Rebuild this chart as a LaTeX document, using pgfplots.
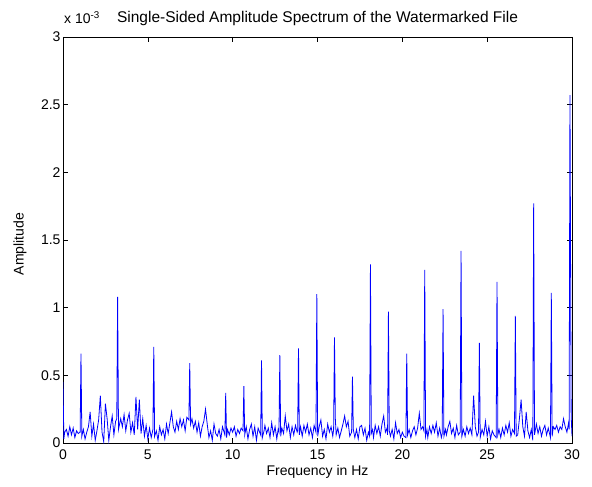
\documentclass[border=0pt]{standalone}
\usepackage{pgfplots}
\pgfplotsset{compat=1.18}
\usepackage{pgfplotstable}
\usepackage{fontspec}
\setmainfont{Liberation Sans}
\usetikzlibrary{calc}

% amplitude in units of 1e-3
\pgfplotstableread{
f a
0.0 0.45
0.05 0.03
0.1 0.08
0.2 0.10
0.3 0.05
0.4 0.12
0.5 0.06
0.6 0.11
0.7 0.04
0.8 0.09
0.9 0.07
1.01 0.08
1.06 0.66
1.11 0.05
1.2 0.10
1.3 0.03
1.4 0.08
1.5 0.12
1.6 0.23
1.7 0.05
1.8 0.14
1.9 0.02
2.0 0.09
2.1 0.17
2.2 0.35
2.3 0.08
2.4 0.01
2.5 0.29
2.6 0.18
2.7 0.02
2.8 0.12
2.9 0.20
3.0 0.06
3.1 0.16
3.17 0.18
3.22 1.08
3.27 0.10
3.4 0.18
3.5 0.12
3.6 0.21
3.7 0.09
3.8 0.17
3.9 0.22
4.0 0.08
4.1 0.15
4.2 0.06
4.3 0.34
4.4 0.10
4.5 0.32
4.6 0.07
4.7 0.18
4.8 0.05
4.9 0.13
5.0 0.03
5.1 0.11
5.2 0.04
5.30 0.10
5.35 0.71
5.40 0.05
5.5 0.09
5.6 0.02
5.7 0.12
5.8 0.06
5.9 0.10
6.0 0.03
6.1 0.14
6.2 0.07
6.3 0.15
6.4 0.23
6.5 0.12
6.6 0.08
6.7 0.16
6.8 0.10
6.9 0.18
7.0 0.12
7.1 0.17
7.2 0.09
7.3 0.19
7.42 0.17
7.47 0.59
7.52 0.14
7.6 0.18
7.7 0.11
7.8 0.16
7.9 0.08
8.0 0.15
8.1 0.05
8.2 0.12
8.3 0.16
8.4 0.25
8.5 0.14
8.6 0.04
8.7 0.09
8.8 0.02
8.9 0.14
9.0 0.07
9.1 0.05
9.2 0.10
9.3 0.03
9.4 0.12
9.54 0.06
9.59 0.37
9.64 0.04
9.7 0.10
9.8 0.06
9.9 0.11
10.0 0.08
10.1 0.12
10.2 0.05
10.3 0.10
10.4 0.07
10.5 0.11
10.61 0.09
10.66 0.42
10.71 0.06
10.8 0.12
10.9 0.03
11.0 0.10
11.1 0.14
11.2 0.05
11.3 0.12
11.4 0.02
11.5 0.11
11.65 0.06
11.70 0.61
11.75 0.04
11.85 0.09
11.9 0.13
12.0 0.07
12.1 0.11
12.2 0.04
12.3 0.15
12.4 0.06
12.5 0.12
12.6 0.03
12.68 0.10
12.73 0.08
12.78 0.65
12.83 0.05
12.9 0.11
13.0 0.07
13.1 0.20
13.2 0.09
13.3 0.14
13.4 0.04
13.5 0.12
13.6 0.06
13.7 0.13
13.8 0.08
13.83 0.09
13.88 0.70
13.93 0.06
14.0 0.12
14.1 0.05
14.2 0.13
14.3 0.08
14.4 0.14
14.5 0.06
14.6 0.11
14.7 0.04
14.8 0.13
14.91 0.08
14.96 1.10
15.01 0.05
15.1 0.12
15.2 0.17
15.3 0.05
15.4 0.10
15.5 0.03
15.6 0.14
15.7 0.08
15.8 0.12
15.9 0.05
15.95 0.10
16.00 0.78
16.05 0.18
16.1 0.06
16.2 0.11
16.3 0.04
16.4 0.09
16.5 0.14
16.6 0.20
16.7 0.12
16.8 0.16
16.9 0.05
17.01 0.08
17.06 0.49
17.11 0.10
17.2 0.04
17.3 0.10
17.4 0.03
17.5 0.12
17.6 0.13
17.7 0.06
17.8 0.11
17.9 0.02
18.0 0.08
18.07 0.05
18.12 1.32
18.17 0.07
18.25 0.10
18.3 0.04
18.4 0.13
18.5 0.07
18.6 0.12
18.7 0.05
18.8 0.14
18.9 0.20
19.0 0.08
19.1 0.11
19.13 0.06
19.18 0.97
19.23 0.09
19.3 0.05
19.4 0.10
19.5 0.03
19.6 0.15
19.7 0.07
19.8 0.10
19.9 0.04
20.0 0.08
20.1 0.05
20.21 0.04
20.26 0.66
20.31 0.06
20.4 0.10
20.5 0.04
20.6 0.09
20.7 0.12
20.8 0.06
20.9 0.11
21.0 0.22
21.1 0.10
21.2 0.12
21.27 0.09
21.32 1.28
21.37 0.05
21.45 0.10
21.5 0.04
21.6 0.12
21.7 0.07
21.8 0.13
21.9 0.08
22.0 0.15
22.1 0.05
22.2 0.11
22.3 0.04
22.35 0.07
22.40 0.99
22.45 0.05
22.55 0.10
22.6 0.06
22.7 0.12
22.8 0.16
22.9 0.07
23.0 0.11
23.1 0.04
23.2 0.13
23.3 0.06
23.41 0.08
23.46 1.42
23.51 0.05
23.6 0.10
23.7 0.05
23.8 0.12
23.9 0.07
24.0 0.11
24.1 0.06
24.2 0.35
24.3 0.12
24.4 0.05
24.49 0.08
24.54 0.74
24.59 0.04
24.7 0.10
24.8 0.06
24.9 0.16
25.0 0.05
25.1 0.12
25.2 0.03
25.3 0.09
25.4 0.06
25.53 0.04
25.58 1.19
25.63 0.06
25.7 0.10
25.8 0.04
25.9 0.11
26.0 0.06
26.1 0.13
26.2 0.08
26.3 0.15
26.4 0.05
26.5 0.10
26.61 0.07
26.66 0.94
26.71 0.05
26.8 0.06
26.9 0.18
27.0 0.32
27.1 0.12
27.2 0.05
27.3 0.23
27.4 0.09
27.5 0.04
27.6 0.10
27.69 0.02
27.74 1.77
27.79 0.06
27.9 0.14
28.0 0.07
28.1 0.12
28.2 0.05
28.3 0.10
28.4 0.13
28.5 0.06
28.6 0.11
28.73 0.04
28.78 1.11
28.83 0.05
28.9 0.12
29.0 0.10
29.1 0.13
29.2 0.08
29.3 0.12
29.4 0.10
29.5 0.18
29.6 0.12
29.7 0.08
29.8 0.15
29.83 0.10
29.88 2.57
29.95 0.20
30.0 0.05
}\spectrum

\begin{document}
\begin{tikzpicture}
\begin{axis}[
    name=ax,
    scale only axis,
    width=509pt, height=406pt,
    xmin=0, xmax=30, ymin=0, ymax=3,
    xtick={0,5,...,30},
    ytick={0,0.5,...,3},
    yticklabels={0,0.5,1,1.5,2,2.5,3},
    scaled ticks=false,
    tick align=inside,
    major tick length=5pt,
    axis line style={black, line width=0.6pt},
    every tick/.style={black, line width=0.6pt},
    /pgf/number format/assume math mode=true,
    tick label style={font=\fontsize{14}{16}\selectfont},
    xticklabel style={yshift=-3pt},
    yticklabel style={xshift=1pt},
    label style={font=\fontsize{14}{16}\selectfont},
    title style={font=\fontsize{15.5}{18}\selectfont,
        at={(axis description cs:0.5,1)}, anchor=base, yshift=8pt},
    title={Single-Sided Amplitude Spectrum of the Watermarked File},
    xlabel={Frequency in Hz},
    xlabel style={at={(axis description cs:0.5,0)}, anchor=base, yshift=-32pt},
    ylabel={Amplitude},
    ylabel style={at={(axis description cs:-0.0845,0.49)}, anchor=center},
]
\addplot[blue, line width=0.8pt] table[x=f, y=a] {\spectrum};
\end{axis}
\node[anchor=base west, inner sep=0pt, font=\fontsize{14}{16}\selectfont]
    at ($(ax.north west)+(1pt,13pt)$) {x 10\textsuperscript{-3}};
\pgfresetboundingbox
\path[use as bounding box] ($(ax.south west)+(-63pt,-43pt)$) rectangle ($(ax.north east)+(20pt,37pt)$);
\end{tikzpicture}
\end{document}
